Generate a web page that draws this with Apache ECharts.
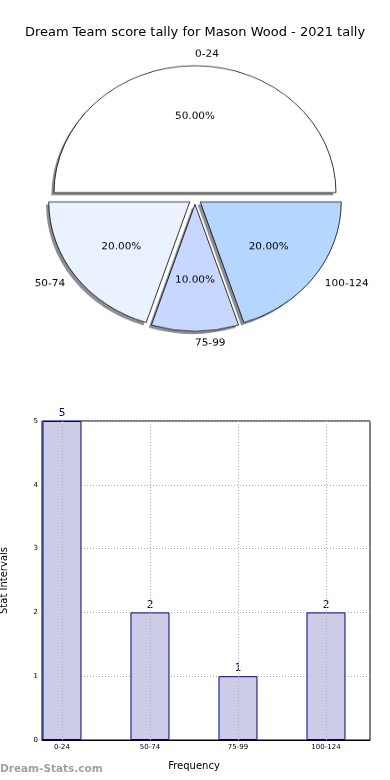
<!DOCTYPE html>
<html>
<head>
<meta charset="utf-8">
<script src="https://cdn.jsdelivr.net/npm/echarts@6/dist/echarts.min.js"></script>
<style>
html,body{margin:0;padding:0;background:#fff;}
#main{position:absolute;left:0;top:0;width:390px;height:780px;}
#pie{position:absolute;left:0;top:0;width:390px;height:400px;transform:scaleY(0.9);transform-origin:0 0;}
</style>
</head>
<body>
<div id="main"></div>
<div id="pie"></div>
<script>
// ---- data ----
const titleText = 'Dream Team score tally for Mason Wood - 2021 tally';
const categories = ['0-24', '50-74', '75-99', '100-124'];
const counts = [5, 2, 1, 2];
const positions = [0, 1, 2, 3];
const sliceColors = ['#ffffff', '#eaf1ff', '#c6d8ff', '#b4d6ff'];
const yTicks = [0, 1, 2, 3, 4, 5];
const yAxisName = 'Stat Intervals';
const xAxisName = 'Frequency';
const watermark = 'Dream-Stats.com';

const FONT = 'DejaVu Sans';
const PIE_CENTER = [195, 220.5];
const PIE_R = 141;
const EXPLODE = 6.5;

// ---- pie chart ----
const pie = echarts.init(document.getElementById('pie'), null, {renderer: 'canvas'});
const commonPie = {
  type: 'pie',
  startAngle: 0,
  clockwise: false,
  selectedMode: 'multiple',
  selectedOffset: EXPLODE,
  avoidLabelOverlap: false,
  emphasis: {disabled: true},
  labelLine: {show: false}
};
// label style tweak so that "75-99" starts at the slice axis like the reference
const outerLabelFix = {2: {distanceToLabelLine: -30.5}};

pie.setOption({
  animation: false,
  series: [
    Object.assign({}, commonPie, {
      // drop shadow
      center: [PIE_CENTER[0] - 2.7, PIE_CENTER[1] + 3],
      radius: [0, PIE_R],
      silent: true,
      itemStyle: {color: '#8e8e8e', borderWidth: 0},
      label: {show: false},
      data: categories.map((c, i) => ({name: c, value: counts[i], selected: true}))
    }),
    Object.assign({}, commonPie, {
      center: PIE_CENTER,
      radius: [0, PIE_R],
      itemStyle: {borderColor: '#000', borderWidth: 0.8},
      label: {
        show: true, position: 'outside', color: '#000',
        fontFamily: FONT, fontSize: 10.5,
        distanceToLabelLine: 0
      },
      labelLine: {show: false, length: 13, length2: 0},
      data: categories.map((c, i) => ({
        name: c, value: counts[i], selected: true,
        itemStyle: {color: sliceColors[i]},
        label: outerLabelFix[i] || {}
      }))
    }),
    Object.assign({}, commonPie, {
      center: PIE_CENTER,
      radius: [0, 163.2],
      silent: true,
      itemStyle: {color: 'rgba(0,0,0,0)', borderWidth: 0},
      label: {
        show: true, position: 'inside', color: '#000',
        fontFamily: FONT, fontSize: 10.5,
        formatter: p => p.percent.toFixed(2) + '%'
      },
      data: categories.map((c, i) => ({name: c, value: counts[i], selected: true}))
    })
  ]
});

// ---- bar chart ----
const main = echarts.init(document.getElementById('main'), null, {renderer: 'canvas'});
main.setOption({
  animation: false,
  title: {
    text: titleText, left: 'center', top: 21,
    textStyle: {fontFamily: FONT, fontSize: 13, fontWeight: 'normal', color: '#000'}
  },
  graphic: [{
    type: 'text', left: 0, top: 764,
    style: {text: watermark, fill: '#a0a0a0', font: 'bold 10.5px "DejaVu Sans"'}
  }],
  grid: {
    left: 42, right: 20, top: 421, bottom: 40,
    containLabel: false, outerBoundsMode: 'none',
    show: true, borderColor: '#000', borderWidth: 1, backgroundColor: 'transparent'
  },
  xAxis: {
    type: 'value', min: -0.227, max: 3.5,
    name: xAxisName, nameLocation: 'middle', nameGap: 21,
    nameTextStyle: {fontFamily: FONT, fontSize: 10, color: '#000', padding: [0, 24, 0, 0]},
    axisLine: {show: true, lineStyle: {color: '#000'}},
    axisTick: {show: true, customValues: positions, length: 3, inside: true, lineStyle: {color: '#000'}},
    axisLabel: {
      customValues: positions, fontFamily: FONT, fontSize: 7, color: '#000', margin: 4,
      formatter: v => categories[Math.round(v)]
    },
    splitLine: {show: false}
  },
  yAxis: {
    type: 'value', min: 0, max: 5, interval: 1,
    name: yAxisName, nameLocation: 'middle', nameGap: 33,
    nameTextStyle: {fontFamily: FONT, fontSize: 10, color: '#000'},
    axisLine: {show: true, lineStyle: {color: '#000'}},
    axisTick: {show: true, inside: true, length: 3, lineStyle: {color: '#000'}},
    axisLabel: {fontFamily: FONT, fontSize: 7, color: '#000', margin: 4,
      customValues: yTicks},
    splitLine: {show: true, lineStyle: {color: '#b0b0b0', type: [1, 2], width: 1}}
  },
  series: [{
    type: 'bar',
    data: positions.map((p, i) => [p, counts[i]]),
    barWidth: 39,
    itemStyle: {color: '#cccce6', borderColor: '#00008b', borderWidth: 1},
    label: {show: true, position: 'top', distance: 2, color: '#00008b', fontFamily: FONT, fontSize: 10.5},
    markLine: {
      silent: true, symbol: 'none',
      label: {show: false},
      lineStyle: {color: '#b0b0b0', type: [1, 2], width: 1},
      data: positions.map(p => ({xAxis: p}))
    },
    z: 2
  }]
});
</script>
</body>
</html>
